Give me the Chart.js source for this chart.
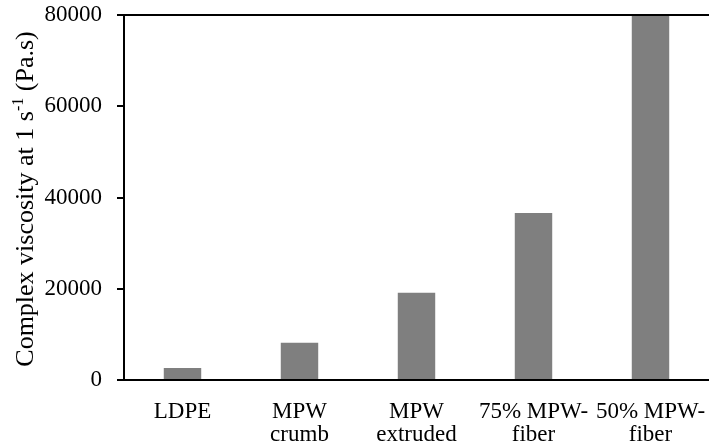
<!DOCTYPE html>
<html>
<head>
<meta charset="utf-8">
<script src="https://cdn.jsdelivr.net/npm/chart.js@4/dist/chart.umd.min.js"></script>
<style>
  html, body { margin: 0; padding: 0; background: #fff; }
  #wrap { width: 709px; height: 448px; }
</style>
</head>
<body>
<div id="wrap"><canvas id="c" width="709" height="448"></canvas></div>
<script>
// Samples and their complex viscosity at 1 s^-1 (Pa.s)
const categories = [
  ["LDPE"],
  ["MPW", "crumb"],
  ["MPW", "extruded"],
  ["75% MPW-", "fiber"],
  ["50% MPW-", "fiber"]
];
const viscosity = [2630, 8150, 19100, 36600, 80000];
const yTicks = [0, 20000, 40000, 60000, 80000];

const SERIF = "'Liberation Serif', 'Times New Roman', serif";

// Rotated y-axis title with a superscript exponent, plus the top frame line
const decorations = {
  id: 'decorations',
  afterDraw(chart) {
    const { ctx, chartArea } = chart;
    ctx.save();
    // top frame line
    ctx.strokeStyle = '#000';
    ctx.lineWidth = 2;
    ctx.beginPath();
    ctx.moveTo(chartArea.left - 7, chartArea.top);
    ctx.lineTo(chartArea.right, chartArea.top);
    ctx.stroke();

    // axis title
    const parts = [
      { t: 'Complex viscosity at 1 s', size: 26, dy: 0 },
      { t: '-1', size: 16, dy: -10 },
      { t: ' (Pa.s)', size: 26, dy: 0 }
    ];
    let total = 0;
    parts.forEach(p => { ctx.font = p.size + 'px ' + SERIF; p.w = ctx.measureText(p.t).width; total += p.w; });
    ctx.translate(33, 199);
    ctx.rotate(-Math.PI / 2);
    ctx.fillStyle = '#000';
    ctx.textBaseline = 'alphabetic';
    ctx.textAlign = 'left';
    let x = -total / 2;
    parts.forEach(p => {
      ctx.font = p.size + 'px ' + SERIF;
      ctx.fillText(p.t, x, p.dy);
      x += p.w;
    });
    ctx.restore();
  }
};

new Chart(document.getElementById('c'), {
  type: 'bar',
  data: {
    labels: categories,
    datasets: [{
      data: viscosity,
      backgroundColor: '#7f7f7f',
      borderWidth: 0,
      barPercentage: 0.32,
      categoryPercentage: 1.0
    }]
  },
  options: {
    responsive: false,
    animation: false,
    layout: { padding: { top: 15, right: 0, bottom: 0, left: 0 } },
    plugins: {
      legend: { display: false },
      tooltip: { enabled: false }
    },
    scales: {
      x: {
        offset: true,
        grid: { display: false },
        border: { display: true, color: '#000', width: 2 },
        ticks: {
          color: '#000',
          autoSkip: false,
          maxRotation: 0,
          minRotation: 0,
          padding: 12,
          font: { family: SERIF, size: 23, lineHeight: 1.0 }
        },
        afterFit(scale) {
          scale.height = 68;
          scale.paddingLeft = 0;
          scale.paddingRight = 0;
        }
      },
      y: {
        min: 0,
        max: 80000,
        afterBuildTicks(scale) { scale.ticks = yTicks.map(v => ({ value: v })); },
        grid: {
          display: true,
          drawOnChartArea: false,
          drawTicks: true,
          tickLength: 7,
          color: '#000',
          lineWidth: 2
        },
        border: { display: true, color: '#000', width: 2 },
        ticks: {
          color: '#000',
          padding: 15,
          font: { family: SERIF, size: 23 },
          callback: v => String(v)
        },
        afterFit(scale) {
          scale.width = 124;
          scale.paddingTop = 0;
          scale.paddingBottom = 0;
        }
      }
    }
  },
  plugins: [decorations]
});
</script>
</body>
</html>
